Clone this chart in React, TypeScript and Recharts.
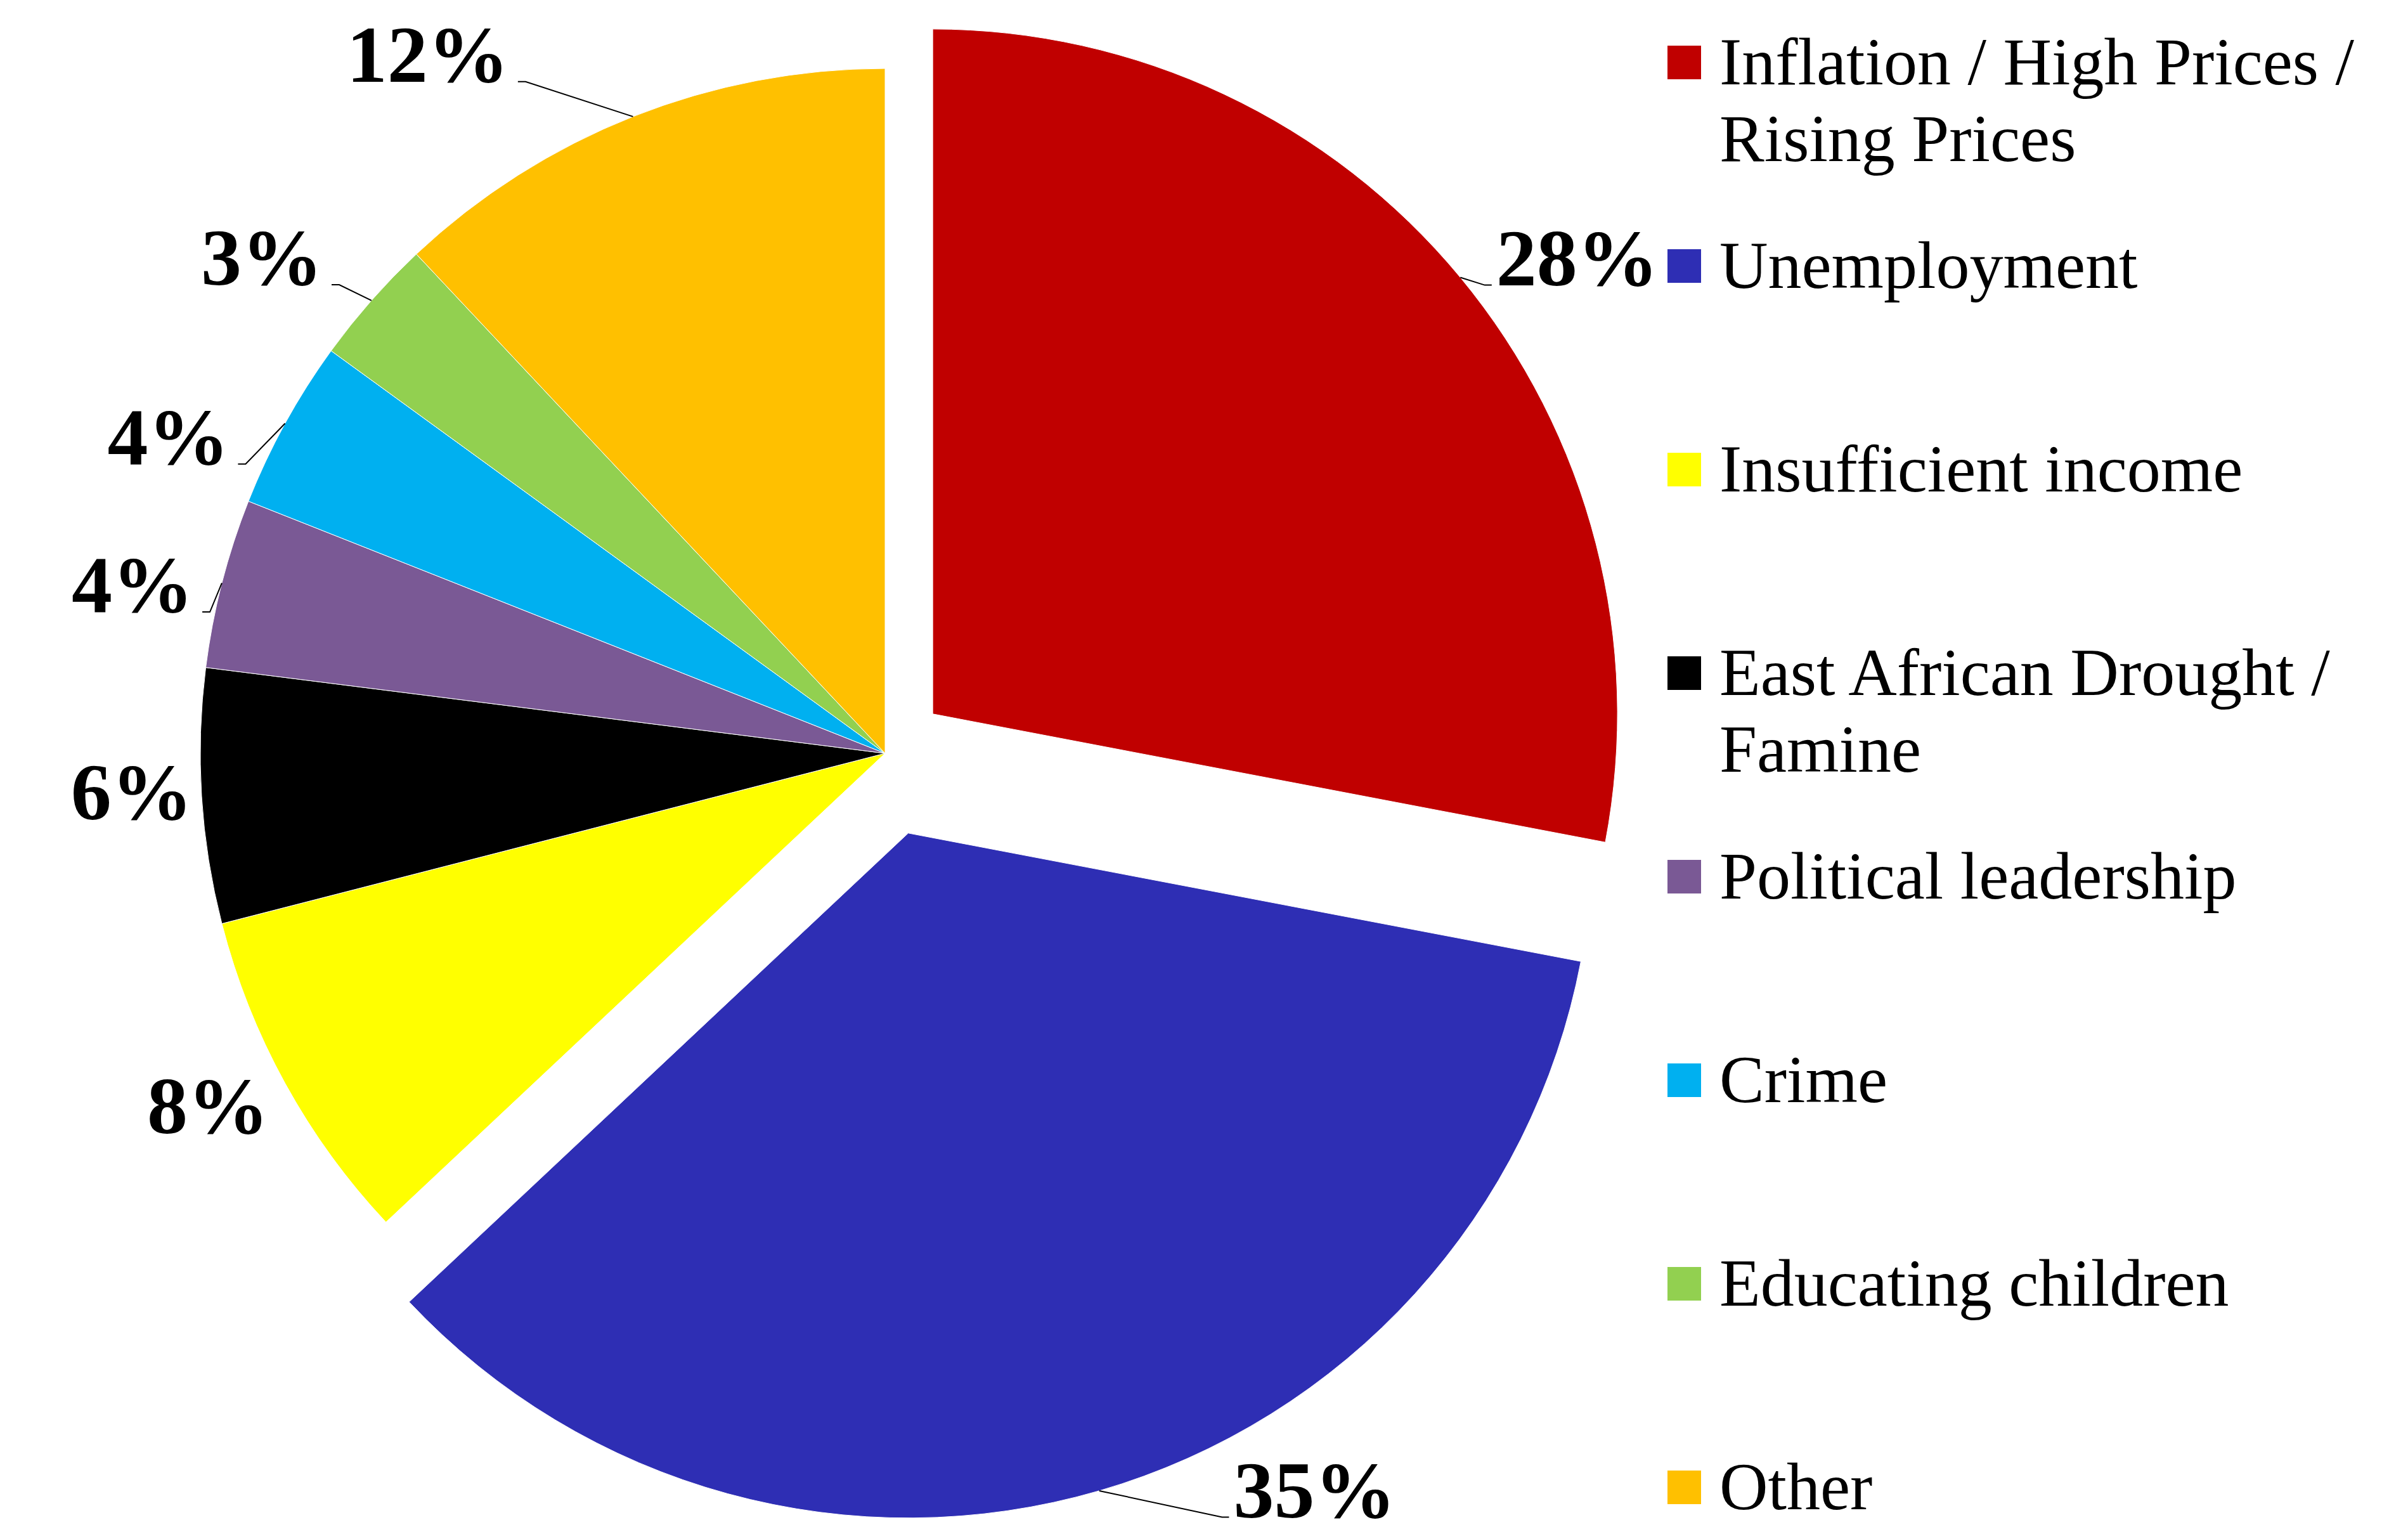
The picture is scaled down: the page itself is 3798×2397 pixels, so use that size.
import React from 'react';
import { PieChart, Pie, Cell, Legend } from 'recharts';

// ---- data ----
const CATEGORIES = [
  'Inflation / High Prices / Rising Prices',
  'Unemployment',
  'Insufficient income',
  'East African Drought / Famine',
  'Political leadership',
  'Crime',
  'Educating children',
  'Other',
];
const VALUES = [28, 35, 8, 6, 4, 4, 3, 12];
const COLORS = ['#C00000', '#2E2EB4', '#FFFF00', '#000000', '#7A5995', '#00B0F0', '#92D050', '#FFC000'];

const data = CATEGORIES.map((name, i) => ({ name, value: VALUES[i] }));

// ---- layout / style ----
const W = 3798;
const H = 2397;
const CX = 1396;
const CY = 1188;
const R = 1080;
const EXPLODE = [97.5, 131, 0, 0, 0, 0, 0, 0];
// label anchor: radius factor k (relative to outer radius), angular shift d (deg, clockwise)
const LABEL_LAYOUT = [
  { k: 1.034, d: 2.33, leader: true },
  { k: 1.106, d: -9.23, leader: true },
  { k: 1.057, d: -2.84, leader: false },
  { k: 1.016, d: -1.84, leader: false },
  { k: 1.031, d: -2.85, leader: true },
  { k: 1.047, d: -5.0, leader: true },
  { k: 1.069, d: -1.6, leader: true },
  { k: 1.124, d: -7.65, leader: true },
];
const LEG_LEFT = 2630;
const LEG_FIRST = 98;
const LEG_STEP = 321.1;
const LEG_FONT = 106;
const LEG_LINE = 121;
const MARK = 53;
const LABEL_FONT = 128;
const SERIF = '"Liberation Serif", "Times New Roman", serif';

const total = VALUES.reduce((a, b) => a + b, 0);
const midCw = (i: number) => {
  const before = VALUES.slice(0, i).reduce((a, b) => a + b, 0);
  return ((before + VALUES[i] / 2) / total) * 360;
};
const explodeCenter = (i: number) => {
  const rad = (midCw(i) * Math.PI) / 180;
  return { x: CX + EXPLODE[i] * Math.sin(rad), y: CY - EXPLODE[i] * Math.cos(rad) };
};

const renderLabel = (props: any) => {
  const { index, midAngle, value, cx, cy, outerRadius } = props;
  const cw = 90 - midAngle;
  const rad = (cw * Math.PI) / 180;
  const ox = cx + EXPLODE[index] * Math.sin(rad);
  const oy = cy - EXPLODE[index] * Math.cos(rad);
  const ax = ox + outerRadius * Math.sin(rad);
  const ay = oy - outerRadius * Math.cos(rad);
  const L = LABEL_LAYOUT[index];
  const r2 = ((cw + L.d) * Math.PI) / 180;
  const tx = ox + outerRadius * L.k * Math.sin(r2);
  const ty = oy - outerRadius * L.k * Math.cos(r2);
  const right = Math.sin(rad) > 0;
  const path = right
    ? `M${ax},${ay} L${tx - 18},${ty} L${tx - 7},${ty}`
    : `M${ax},${ay} L${tx + 26},${ty} L${tx + 14},${ty}`;
  return (
    <g key={`lbl-${index}`}>
      {L.leader && <path d={path} stroke="#000" strokeWidth={2} fill="none" />}
      <text
        x={tx}
        y={ty}
        textAnchor={right ? 'start' : 'end'}
        fontFamily={SERIF}
        fontWeight="bold"
        fontSize={LABEL_FONT}
        fill="#000"
      >
        {`${value}%`}
      </text>
    </g>
  );
};

const renderLegend = () => (
  <div style={{ position: 'relative', width: W - LEG_LEFT, height: H }}>
    {CATEGORIES.map((c, i) => {
      const cyc = LEG_FIRST + i * LEG_STEP;
      return (
        <React.Fragment key={c}>
          <div
            style={{
              position: 'absolute',
              left: 0,
              top: cyc - MARK / 2,
              width: MARK,
              height: MARK,
              background: COLORS[i],
            }}
          />
          <div
            style={{
              position: 'absolute',
              left: 82,
              top: cyc - 61.3,
              width: 1060,
              fontFamily: SERIF,
              fontSize: LEG_FONT,
              lineHeight: `${LEG_LINE}px`,
              color: '#000',
              whiteSpace: 'normal',
              textAlign: 'left',
            }}
          >
            {c}
          </div>
        </React.Fragment>
      );
    })}
  </div>
);

const explodedPie = (i: number) => {
  const c = explodeCenter(i);
  return (
    <Pie
      key={`ex-${i}`}
      data={data}
      dataKey="value"
      nameKey="name"
      cx={c.x}
      cy={c.y}
      outerRadius={R}
      startAngle={90}
      endAngle={-270}
      isAnimationActive={false}
      legendType="none"
      label={false}
      labelLine={false}
    >
      {data.map((_, j) => (
        <Cell
          key={j}
          fill={j === i ? COLORS[j] : 'none'}
          stroke={j === i ? '#ffffff' : 'none'}
          strokeWidth={1}
        />
      ))}
    </Pie>
  );
};

export default function App() {
  return (
    <div style={{ position: 'absolute', left: 0, top: 0, width: W, height: H, background: '#fff' }}>
      <PieChart width={W} height={H} margin={{ top: 0, right: 0, bottom: 0, left: 0 }}>
        <Pie
          data={data}
          dataKey="value"
          nameKey="name"
          cx={CX}
          cy={CY}
          outerRadius={R}
          startAngle={90}
          endAngle={-270}
          isAnimationActive={false}
          label={renderLabel}
          labelLine={false}
        >
          {data.map((_, j) => (
            <Cell
              key={j}
              fill={EXPLODE[j] > 0 ? 'none' : COLORS[j]}
              stroke={EXPLODE[j] > 0 ? 'none' : '#ffffff'}
              strokeWidth={1}
            />
          ))}
        </Pie>
        {explodedPie(0)}
        {explodedPie(1)}
        <Legend
          layout="vertical"
          align="right"
          verticalAlign="top"
          content={renderLegend}
          wrapperStyle={{ position: 'absolute', left: LEG_LEFT, top: 0, width: W - LEG_LEFT, height: H }}
        />
      </PieChart>
    </div>
  );
}
